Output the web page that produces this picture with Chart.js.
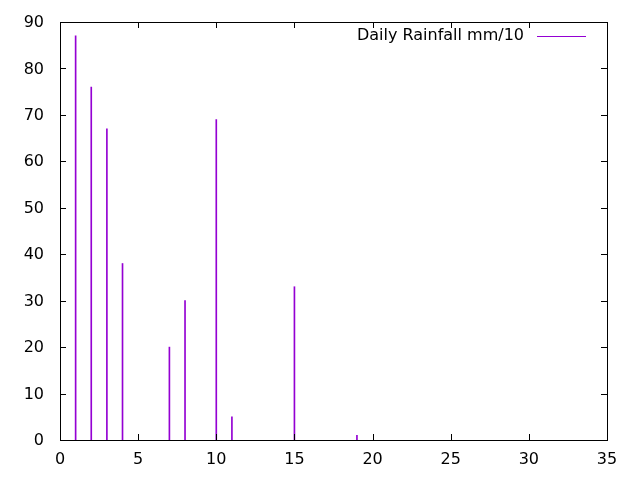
<!DOCTYPE html>
<html lang="en">
  <head>
    <meta charset="UTF-8" />
    <title>Daily Rainfall</title>
    <script src="https://cdn.jsdelivr.net/npm/chart.js"></script>
    <style>
      html, body { margin: 0; padding: 0; background: #fff; overflow: hidden; }
      #wrap { position: relative; width: 640px; height: 480px; }
    </style>
  </head>
  <body>
    <div id="wrap"><canvas id="chart"></canvas></div>
    <script>
      const days = [1, 2, 3, 4, 7, 8, 10, 11, 15, 19];
      const rainfall = [87, 76, 67, 38, 20, 30, 69, 5, 33, 1];
      const seriesLabel = "Daily Rainfall mm/10";
      const xTicks = [0, 5, 10, 15, 20, 25, 30, 35];
      const yTicks = [0, 10, 20, 30, 40, 50, 60, 70, 80, 90];

      const color = "#9400d3";
      const font = { family: "DejaVu Sans", size: 16 };

      // gnuplot style box with inward ticks on all four sides, plus legend
      const frame = {
        id: "frame",
        afterDraw(chart) {
          const { ctx, chartArea: a, scales } = chart;
          const len = 6;
          ctx.save();
          ctx.strokeStyle = "#000";
          ctx.lineWidth = 1;
          ctx.beginPath();
          for (const v of xTicks) {
            const px = Math.round(scales.x.getPixelForValue(v)) + 0.5;
            ctx.moveTo(px, a.bottom); ctx.lineTo(px, a.bottom - len);
            ctx.moveTo(px, a.top); ctx.lineTo(px, a.top + len);
          }
          for (const v of yTicks) {
            const py = Math.round(scales.y.getPixelForValue(v)) + 0.5;
            ctx.moveTo(a.left, py); ctx.lineTo(a.left + len, py);
            ctx.moveTo(a.right, py); ctx.lineTo(a.right - len, py);
          }
          ctx.stroke();
          ctx.strokeRect(Math.round(a.left) + 0.5, Math.round(a.top) + 0.5,
            Math.round(a.right - a.left), Math.round(a.bottom - a.top));

          // legend
          ctx.font = font.size + "px " + font.family;
          ctx.fillStyle = "#000";
          ctx.textAlign = "right";
          ctx.textBaseline = "middle";
          ctx.fillText(seriesLabel, a.right - 83, a.top + 14);
          ctx.strokeStyle = color;
          ctx.beginPath();
          ctx.moveTo(a.right - 70, a.top + 14.5);
          ctx.lineTo(a.right - 21, a.top + 14.5);
          ctx.stroke();
          ctx.restore();
        },
      };

      new Chart(document.getElementById("chart"), {
        type: "bar",
        data: {
          datasets: [
            {
              label: seriesLabel,
              data: days.map((d, i) => ({ x: d, y: rainfall[i] })),
              backgroundColor: color,
              barThickness: 1,
            },
          ],
        },
        options: {
          responsive: true,
          maintainAspectRatio: false,
          animation: false,
          layout: { padding: { top: 22, right: 33, left: 0, bottom: 0 } },
          plugins: { legend: { display: false }, tooltip: { enabled: false } },
          scales: {
            x: {
              type: "linear",
              min: 0,
              max: 35,
              offset: false,
              grid: { display: false, drawTicks: false },
              border: { display: false },
              afterBuildTicks: (s) => { s.ticks = xTicks.map((v) => ({ value: v })); },
              afterFit: (s) => {
                s.height = 40;
                s.paddingLeft = 0;
                s.paddingRight = 0;
              },
              ticks: { color: "#000", font, padding: 10, maxRotation: 0 },
            },
            y: {
              min: 0,
              max: 90,
              grid: { display: false, drawTicks: false },
              border: { display: false },
              afterBuildTicks: (s) => { s.ticks = yTicks.map((v) => ({ value: v })); },
              afterFit: (s) => {
                s.width = 60;
                s.paddingTop = 0;
                s.paddingBottom = 0;
              },
              ticks: { color: "#000", font, padding: 16, labelOffset: 1 },
            },
          },
        },
        plugins: [frame],
      });
    </script>
  </body>
</html>
